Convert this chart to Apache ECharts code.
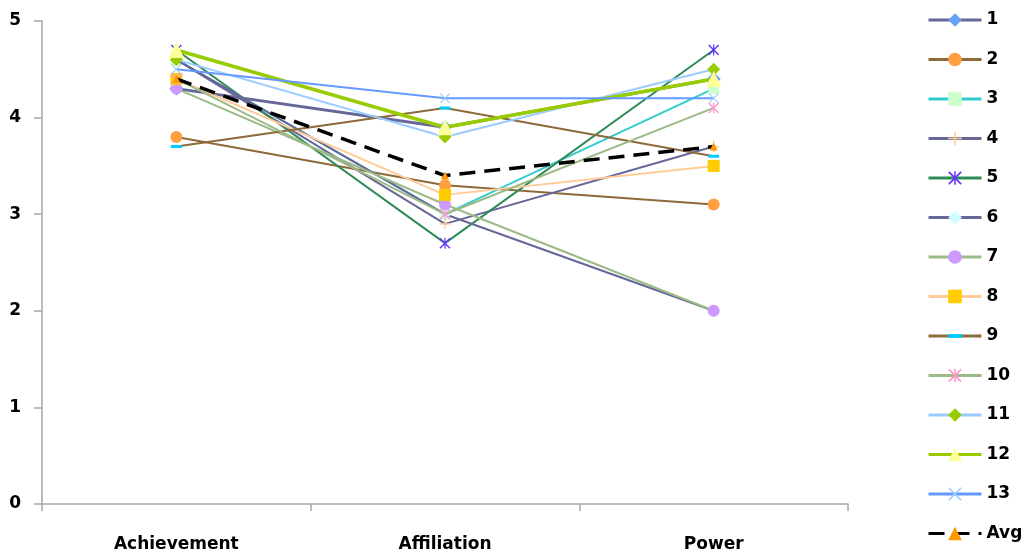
<!DOCTYPE html>
<html>
<head>
<meta charset="utf-8">
<title>Motive profiles</title>
<script src="https://cdn.jsdelivr.net/npm/echarts@6/dist/echarts.min.js"></script>
<style>
  html, body { margin: 0; padding: 0; background: #fff; }
  #chart { width: 1022px; height: 556px; }
</style>
</head>
<body>
<div id="chart"></div>
<script>
// Categories on the x axis
const categories = ['Achievement', 'Affiliation', 'Power'];

// Individual scores per respondent
const s1  = [4.3, 3.9, 4.4];
const s2  = [3.8, 3.3, 3.1];
const s3  = [4.6, 3.0, 4.3];
const s4  = [4.6, 2.9, 3.7];
const s5  = [4.7, 2.7, 4.7];
const s6  = [4.6, 3.0, 2.0];
const s7  = [4.3, 3.1, 2.0];
const s8  = [4.4, 3.2, 3.5];
const s9  = [3.7, 4.1, 3.6];
const s10 = [4.4, 3.0, 4.1];
const s11 = [4.6, 3.8, 4.5];
const s12 = [4.7, 3.9, 4.4];
const s13 = [4.5, 4.2, 4.2];
const avg = [4.4, 3.4, 3.7];

const seriesNames = ['1','2','3','4','5','6','7','8','9','10','11','12','13','Avg'];
const seriesData  = [s1, s2, s3, s4, s5, s6, s7, s8, s9, s10, s11, s12, s13, avg];

// Marker shapes built from thin filled strokes
const PLUS     = 'path://M0,4.4 L10,4.4 L10,5.6 L0,5.6 Z M4.4,0 L5.6,0 L5.6,10 L4.4,10 Z';
const CROSS    = 'path://M0,0.8 L0.8,0 L10,9.2 L9.2,10 Z M9.2,0 L10,0.8 L0.8,10 L0,9.2 Z';
const ASTERISK = 'path://M0,0.9 L0.9,0 L10,9.1 L9.1,10 Z M9.1,0 L10,0.9 L0.9,10 L0,9.1 Z M4.45,0 L5.55,0 L5.55,10 L4.45,10 Z';
// Short horizontal bar centred in a square box (corner points only set the bounds)
const DASH     = 'path://M0,0 L0.01,0 Z M0,3.6 L10,3.6 L10,6.4 L0,6.4 Z M10,10 L9.99,10 Z';

const SLATE = '#666699', BROWN = '#8E6A3A', SAGE = '#9CBA86';

// Per-series look: line colour, line width, marker shape, marker size, marker colour
const styles = [
  { line: SLATE,     w: 3,   sym: 'diamond',  size: 14, fill: '#66A3F5' },
  { line: BROWN,     w: 2,   sym: 'circle',   size: 12, fill: '#FF9F40' },
  { line: '#33CCCC', w: 2,   sym: 'rect',     size: 11, fill: '#CCFFCC' },
  { line: SLATE,     w: 2,   sym: PLUS,       size: 11, fill: '#FFCC99' },
  { line: '#2E8B57', w: 2,   sym: ASTERISK,   size: 11, fill: '#6633FF' },
  { line: SLATE,     w: 2,   sym: 'diamond',  size: 12, fill: '#CCFFFF' },
  { line: SAGE,      w: 2,   sym: 'circle',   size: 12, fill: '#CC99FF' },
  { line: '#FFCC99', w: 2,   sym: 'rect',     size: 12, fill: '#FFCC00' },
  { line: BROWN,     w: 2,   sym: DASH,       size: 11, fill: '#00CCFF' },
  { line: SAGE,      w: 2,   sym: ASTERISK,   size: 11, fill: '#FF99CC' },
  { line: '#99CCFF', w: 2,   sym: 'diamond',  size: 13, fill: '#99CC00' },
  { line: '#99CC00', w: 3.5, sym: 'triangle', size: 16, fill: '#FFFF99' },
  { line: '#6699FF', w: 2,   sym: CROSS,      size: 10, fill: '#99CCFF' },
  { line: '#000000', w: 3.5, sym: 'triangle', size: 8,  fill: '#FF9900', dash: [16, 9] }
];

const series = seriesNames.map((name, i) => {
  const st = styles[i];
  return {
    name: name,
    type: 'line',
    data: seriesData[i],
    symbol: st.sym,
    symbolSize: st.size,
    showAllSymbol: true,
    lineStyle: { color: st.line, width: st.w, type: st.dash || 'solid' },
    itemStyle: { color: st.fill, borderWidth: 0 },
    emphasis: { disabled: true },
    z: 2 + i
  };
});

const labelFont = {
  fontFamily: 'DejaVu Sans',
  fontWeight: 'bold',
  fontSize: 17,
  color: '#000'
};

const chart = echarts.init(document.getElementById('chart'), null, { renderer: 'canvas' });
chart.setOption({
  animation: false,
  backgroundColor: '#ffffff',
  grid: { left: 42, right: 174, top: 21, bottom: 52, containLabel: false },
  xAxis: {
    type: 'category',
    data: categories,
    boundaryGap: true,
    axisLine: { lineStyle: { color: '#A6A6A6', width: 1.5 } },
    axisTick: { show: true, length: 7, lineStyle: { color: '#A6A6A6', width: 1.5 } },
    axisLabel: Object.assign({ margin: 32 }, labelFont),
    splitLine: { show: false }
  },
  yAxis: {
    type: 'value',
    min: 0,
    max: 5,
    interval: 1,
    axisLine: { show: true, lineStyle: { color: '#A6A6A6', width: 1.5 } },
    axisTick: { show: true, length: 8, lineStyle: { color: '#A6A6A6', width: 1.5 } },
    axisLabel: Object.assign({ margin: 21 }, labelFont),
    splitLine: { show: false }
  },
  legend: {
    orient: 'vertical',
    left: 927,
    top: 10,
    padding: 0,
    itemWidth: 53,
    itemHeight: 17,
    itemGap: 19.5,
    lineStyle: { width: 3 },
    textStyle: Object.assign({ lineHeight: 20 }, labelFont),
    data: seriesNames
  },
  series: series
});
</script>
</body>
</html>
